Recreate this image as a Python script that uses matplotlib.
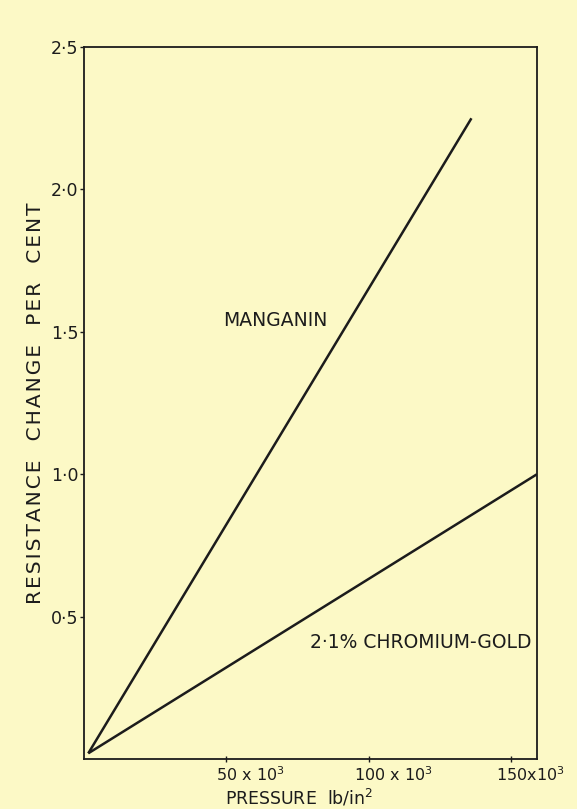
import matplotlib
matplotlib.use("Agg")
import matplotlib.pyplot as plt
import matplotlib.transforms as mtransforms
from matplotlib.ticker import FuncFormatter

# Data (pressure in units of 10^3 lb/in^2, resistance change in per cent)
manganin_p = [1.5, 136.0]
manganin_r = [0.02, 2.25]
crau_p = [1.5, 159.0]
crau_r = [0.02, 1.0]

x_ticks = [50, 100, 150]
x_ticklabels = ["50 x 10$^3$", "100 x 10$^3$", "150x10$^3$"]
y_ticks = [0.5, 1.0, 1.5, 2.0, 2.5]

bg = "#FCF9C6"
ink = "#1c1c1c"

plt.rcParams['font.family'] = ['DejaVu Sans']


def spaced(s):
    return "\u200a".join(s)


fig = plt.figure(figsize=(5.77, 8.09), dpi=100, facecolor=bg)
ax = fig.add_axes([0.1456, 0.0618, 0.785, 0.880], facecolor=bg)

ax.plot(manganin_p, manganin_r, color=ink, lw=1.8, solid_capstyle='butt')
ax.plot(crau_p, crau_r, color=ink, lw=1.8, solid_capstyle='butt')

ax.set_xlim(0, 159)
ax.set_ylim(0, 2.5)

for s in ax.spines.values():
    s.set_color(ink)
    s.set_linewidth(1.3)

ax.set_yticks(y_ticks)
ax.yaxis.set_major_formatter(FuncFormatter(lambda v, p: f"{v:.1f}".replace(".", "·")))
ax.set_xticks(x_ticks)
ax.set_xticklabels(x_ticklabels)

ax.tick_params(axis='y', direction='out', length=3, width=1.0, color=ink,
               labelsize=12.5, labelcolor=ink, pad=1)
ax.tick_params(axis='x', direction='inout', length=5, width=1.0, color=ink,
               labelsize=11.5, labelcolor=ink, pad=2)

offsets = [-10, -15, -15]
for lab, dx in zip(ax.get_xticklabels(), offsets):
    lab.set_horizontalalignment('left')
    lab.set_transform(lab.get_transform() +
                      mtransforms.ScaledTranslation(dx / 100, 0, fig.dpi_scale_trans))

ax.set_xlabel("PRESSURE  lb/in$^2$", fontsize=12.5, color=ink)
ax.xaxis.set_label_coords(0.475, -0.0405)
ax.set_ylabel(spaced("RESISTANCE") + "   " + spaced("CHANGE") + "   " + spaced("PER")
              + "   " + spaced("CENT"), fontsize=14.5, color=ink)
ax.yaxis.set_label_coords(-0.086, 0.5)

ax.text(49, 1.54, "MANGANIN", fontsize=13.5, color=ink, ha='left', va='center')
ax.text(157, 0.41, "2·1% CHROMIUM-GOLD", fontsize=13.5, color=ink, ha='right', va='center')

fig.savefig("out.png", dpi=100, facecolor=bg)
